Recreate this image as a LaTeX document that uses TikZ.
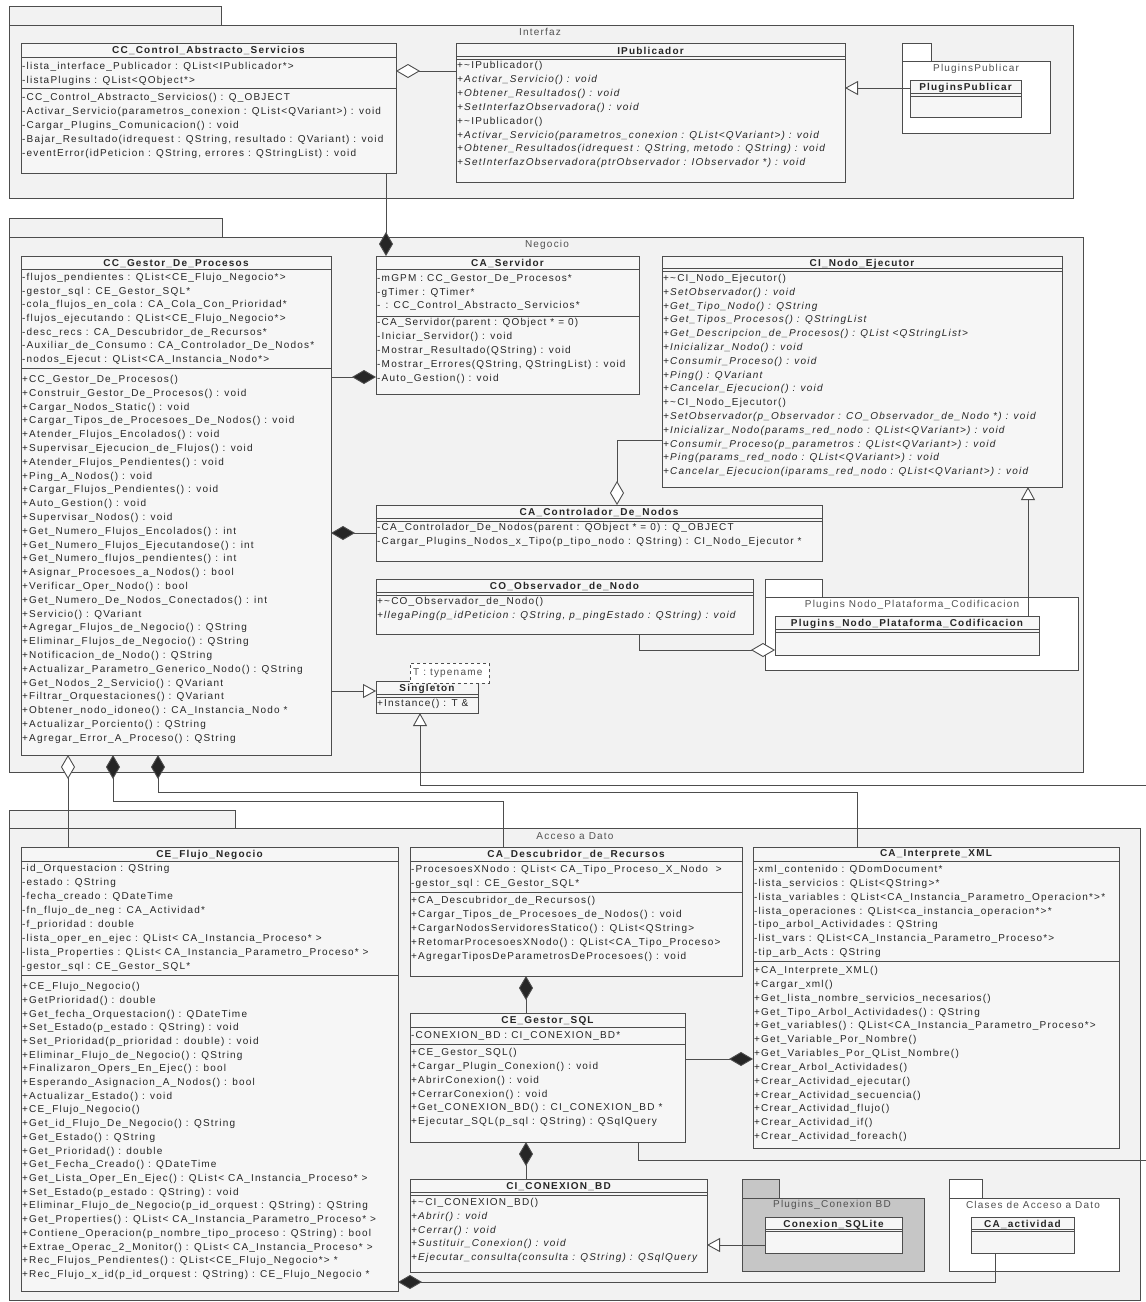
\documentclass[tikz,border=0pt]{standalone}
\usepackage{fontspec}
\setmainfont{Liberation Sans}[LetterSpace=12]
\usetikzlibrary{arrows.meta}
\definecolor{pkgfill}{HTML}{F2F2F2}
\definecolor{clsfill}{HTML}{F6F6F6}
\definecolor{edgec}{HTML}{4D4D4D}
\definecolor{txtc}{HTML}{262626}
\definecolor{darkpkg}{HTML}{C6C6C6}
\definecolor{labc}{HTML}{505050}
\tikzset{
  pkgbox/.style={draw=edgec, fill=pkgfill, line width=0.9pt},
  pkgnode/.style={draw=edgec, fill=pkgfill, line width=0.9pt, rectangle, inner sep=0pt, outer sep=0pt, anchor=north west},
  clsbox/.style={draw=edgec, fill=clsfill, line width=1pt, rectangle, inner sep=0pt, outer sep=0pt, anchor=north west},
  sepline/.style={draw=edgec, line width=0.9pt},
  mem/.style={anchor=west, inner sep=0pt, text=txtc, font=\fontsize{10}{12}\selectfont},
  ttl/.style={anchor=center, inner sep=0pt, text=txtc, font=\fontsize{10}{12}\selectfont\bfseries},
  plab/.style={anchor=center, inner sep=0pt, text=labc, font=\fontsize{10}{12}\selectfont},
  conn/.style={draw=edgec, line width=0.9pt},
  compS/.style={conn, {Diamond[fill=black!85,length=24pt,width=14pt]}-},
  compE/.style={conn, -{Diamond[fill=black!85,length=24pt,width=14pt]}},
  aggS/.style={conn, {Diamond[open,fill=white,length=24pt,width=14pt]}-},
  aggE/.style={conn, -{Diamond[open,fill=white,length=24pt,width=14pt]}},
  genE/.style={conn, -{Triangle[open,fill=white,length=13pt,width=14pt]}},
}
\newcounter{mm}
\newcommand\members[4]{\foreach \t [count=\i from 0] in {#4}{\stepcounter{mm}\node[mem] (m\arabic{mm}) at (#1,{#2+\i*#3}) {\t};}}
\newcommand\umlclass[8]{%
  \node[clsbox, minimum width={#4-#2}, minimum height={#5-#3}] (#1) at (#2,#3) {};
  \node[ttl] (#1-t) at ({(#2+#4)/2},{#3+7.5}) {#6};
  \draw[sepline] (#2,#7) -- (#4,#7);
  \draw[sepline] (#2,#8) -- (#4,#8);}
\begin{document}
\begin{tikzpicture}[x=1pt,y=-1pt]
\useasboundingbox[fill=white] (0,0) rectangle (1146,1302);

%% ================= Interfaz =================
\draw[pkgbox] (9,6) rectangle (221,25);
\node[pkgnode, minimum width=1064, minimum height=173] (pkgI) at (9,25) {};
\node[plab] (pkgI-l) at (540,32) {Interfaz};

\umlclass{ccas}{21}{43}{396}{173}{CC\_Control\_Abstracto\_Servicios}{57}{88}
\members{22}{67}{13.5}{{-lista\_interface\_Publicador : QList<IPublicador*>},{-listaPlugins : QList<QObject*>}}
\members{22}{98}{14}{{-CC\_Control\_Abstracto\_Servicios() : Q\_OBJECT},{-Activar\_Servicio(parametros\_conexion : QList<QVariant>) : void},{-Cargar\_Plugins\_Comunicacion() : void},{-Bajar\_Resultado(idrequest : QString, resultado : QVariant) : void},{-eventError(idPeticion : QString, errores : QStringList) : void}}

\umlclass{ipub}{456}{43}{845}{182}{IPublicador}{56}{59}
\members{457}{66}{13.9}{{+\textasciitilde IPublicador()},{\itshape +Activar\_Servicio() : void},{\itshape +Obtener\_Resultados() : void},{\itshape +SetInterfazObservadora() : void},{+\textasciitilde IPublicador()},{\itshape +Activar\_Servicio(parametros\_conexion : QList<QVariant>) : void},{\itshape +Obtener\_Resultados(idrequest : QString, metodo : QString) : void},{\itshape +SetInterfazObservadora(ptrObservador : IObservador *) : void}}

\draw[pkgbox, fill=white] (902,43) rectangle (931,61);
\node[pkgnode, fill=white, minimum width=148, minimum height=72] (ppubpkg) at (902,61) {};
\node[plab] (ppubpkg-l) at (976,69) {PluginsPublicar};
\umlclass{ppub}{910}{80}{1021}{117}{PluginsPublicar}{93}{96}

%% ================= Negocio =================
\draw[pkgbox] (9,218) rectangle (222,237);
\node[pkgnode, minimum width=1074, minimum height=535] (pkgN) at (9,237) {};
\node[plab] (pkgN-l) at (547,245) {Negocio};

\umlclass{gestor}{21}{256}{331}{755}{CC\_Gestor\_De\_Procesos}{269}{368}
\members{22}{278}{13.67}{{-flujos\_pendientes : QList<CE\_Flujo\_Negocio*>},{-gestor\_sql : CE\_Gestor\_SQL*},{-cola\_flujos\_en\_cola : CA\_Cola\_Con\_Prioridad*},{-flujos\_ejecutando : QList<CE\_Flujo\_Negocio*>},{-desc\_recs : CA\_Descubridor\_de\_Recursos*},{-Auxiliar\_de\_Consumo : CA\_Controlador\_De\_Nodos*},{-nodos\_Ejecut : QList<CA\_Instancia\_Nodo*>}}
\members{22}{380}{13.8}{{+CC\_Gestor\_De\_Procesos()},{+Construir\_Gestor\_De\_Procesos() : void},{+Cargar\_Nodos\_Static() : void},{+Cargar\_Tipos\_de\_Procesoes\_De\_Nodos() : void},{+Atender\_Flujos\_Encolados() : void},{+Supervisar\_Ejecucion\_de\_Flujos() : void},{+Atender\_Flujos\_Pendientes() : void},{+Ping\_A\_Nodos() : void},{+Cargar\_Flujos\_Pendientes() : void},{+Auto\_Gestion() : void},{+Supervisar\_Nodos() : void},{+Get\_Numero\_Flujos\_Encolados() : int},{+Get\_Numero\_Flujos\_Ejecutandose() : int},{+Get\_Numero\_flujos\_pendientes() : int},{+Asignar\_Procesoes\_a\_Nodos() : bool},{+Verificar\_Oper\_Nodo() : bool},{+Get\_Numero\_De\_Nodos\_Conectados() : int},{+Servicio() : QVariant},{+Agregar\_Flujos\_de\_Negocio() : QString},{+Eliminar\_Flujos\_de\_Negocio() : QString},{+Notificacion\_de\_Nodo() : QString},{+Actualizar\_Parametro\_Generico\_Nodo() : QString},{+Get\_Nodos\_2\_Servicio() : QVariant},{+Filtrar\_Orquestaciones() : QVariant},{+Obtener\_nodo\_idoneo() : CA\_Instancia\_Nodo *},{+Actualizar\_Porciento() : QString},{+Agregar\_Error\_A\_Proceso() : QString}}

\umlclass{serv}{376}{256}{639}{394}{CA\_Servidor}{269}{316}
\members{377}{279}{13.5}{{-mGPM : CC\_Gestor\_De\_Procesos*},{-gTimer : QTimer*},{-\hspace{5pt}: CC\_Control\_Abstracto\_Servicios*}}
\members{377}{323}{14}{{-CA\_Servidor(parent : QObject * = 0)},{-Iniciar\_Servidor() : void},{-Mostrar\_Resultado(QString) : void},{-Mostrar\_Errores(QString, QStringList) : void},{-Auto\_Gestion() : void}}

\umlclass{nodo}{662}{256}{1062}{487}{CI\_Nodo\_Ejecutor}{268}{271}
\members{663}{279}{13.79}{{+\textasciitilde CI\_Nodo\_Ejecutor()},{\itshape +SetObservador() : void},{\itshape +Get\_Tipo\_Nodo() : QString},{\itshape +Get\_Tipos\_Procesos() : QStringList},{\itshape +Get\_Descripcion\_de\_Procesos() : QList <QStringList>},{\itshape +Inicializar\_Nodo() : void},{\itshape +Consumir\_Proceso() : void},{\itshape +Ping() : QVariant},{\itshape +Cancelar\_Ejecucion() : void},{+\textasciitilde CI\_Nodo\_Ejecutor()},{\itshape +SetObservador(p\_Observador : CO\_Observador\_de\_Nodo *) : void},{\itshape +Inicializar\_Nodo(params\_red\_nodo : QList<QVariant>) : void},{\itshape +Consumir\_Proceso(p\_parametros : QList<QVariant>) : void},{\itshape +Ping(params\_red\_nodo : QList<QVariant>) : void},{\itshape +Cancelar\_Ejecucion(iparams\_red\_nodo : QList<QVariant>) : void}}

\umlclass{ctrl}{376}{505}{822}{561}{CA\_Controlador\_De\_Nodos}{518}{521}
\members{377}{528}{14}{{-CA\_Controlador\_De\_Nodos(parent : QObject * = 0) : Q\_OBJECT},{-Cargar\_Plugins\_Nodos\_x\_Tipo(p\_tipo\_nodo : QString) : CI\_Nodo\_Ejecutor *}}

\umlclass{obs}{376}{579}{753}{634}{CO\_Observador\_de\_Nodo}{592}{595}
\members{377}{602}{14}{{+\textasciitilde CO\_Observador\_de\_Nodo()},{\itshape +llegaPing(p\_idPeticion : QString, p\_pingEstado : QString) : void}}

\draw[pkgbox, fill=white] (765,579) rectangle (822,597);
\node[pkgnode, fill=white, minimum width=313, minimum height=73] (plugpkg) at (765,597) {};
\node[plab] (plugpkg-l) at (912,605) {Plugins Nodo\_Plataforma\_Codificacion};
\umlclass{plugc}{775}{616}{1039}{655}{Plugins\_Nodo\_Plataforma\_Codificacion}{629}{632}

\umlclass{single}{376}{681}{478}{713}{Singleton}{694}{697}
\members{377}{704}{14}{{+Instance() : T \&}}
\node[draw=edgec, dashed, fill=white, line width=0.8pt, rectangle, inner sep=0pt, anchor=north west, minimum width=79, minimum height=20] (tmpl) at (410,663) {};
\node[mem, text=labc] (tmpl-t) at (413,673) {T : typename};

%% ================= Acceso a Dato =================
\draw[pkgbox] (9,810) rectangle (235,828);
\node[pkgnode, minimum width=1131, minimum height=472] (pkgA) at (9,828) {};
\node[plab] (pkgA-l) at (575,836) {Acceso a Dato};

\umlclass{flujo}{21}{847}{398}{1291}{CE\_Flujo\_Negocio}{861}{975}
\members{22}{869}{14}{{-id\_Orquestacion : QString},{-estado : QString},{-fecha\_creado : QDateTime},{-fn\_flujo\_de\_neg : CA\_Actividad*},{-f\_prioridad : double},{-lista\_oper\_en\_ejec : QList< CA\_Instancia\_Proceso* >},{-lista\_Properties : QList< CA\_Instancia\_Parametro\_Proceso* >},{-gestor\_sql : CE\_Gestor\_SQL*}}
\members{22}{987}{13.71}{{+CE\_Flujo\_Negocio()},{+GetPrioridad() : double},{+Get\_fecha\_Orquestacion() : QDateTime},{+Set\_Estado(p\_estado : QString) : void},{+Set\_Prioridad(p\_prioridad : double) : void},{+Eliminar\_Flujo\_de\_Negocio() : QString},{+Finalizaron\_Opers\_En\_Ejec() : bool},{+Esperando\_Asignacion\_A\_Nodos() : bool},{+Actualizar\_Estado() : void},{+CE\_Flujo\_Negocio()},{+Get\_id\_Flujo\_De\_Negocio() : QString},{+Get\_Estado() : QString},{+Get\_Prioridad() : double},{+Get\_Fecha\_Creado() : QDateTime},{+Get\_Lista\_Oper\_En\_Ejec() : QList< CA\_Instancia\_Proceso* >},{+Set\_Estado(p\_estado : QString) : void},{+Eliminar\_Flujo\_de\_Negocio(p\_id\_orquest : QString) : QString},{+Get\_Properties() : QList< CA\_Instancia\_Parametro\_Proceso* >},{+Contiene\_Operacion(p\_nombre\_tipo\_proceso : QString) : bool},{+Extrae\_Operac\_2\_Monitor() : QList< CA\_Instancia\_Proceso* >},{+Rec\_Flujos\_Pendientes() : QList<CE\_Flujo\_Negocio*> *},{+Rec\_Flujo\_x\_id(p\_id\_orquest : QString) : CE\_Flujo\_Negocio *}}

\umlclass{desc}{410}{847}{742}{976}{CA\_Descubridor\_de\_Recursos}{861}{892}
\members{411}{870}{14}{{-ProcesoesXNodo : QList< CA\_Tipo\_Proceso\_X\_Nodo \ >},{-gestor\_sql : CE\_Gestor\_SQL*}}
\members{411}{901}{14}{{+CA\_Descubridor\_de\_Recursos()},{+Cargar\_Tipos\_de\_Procesoes\_de\_Nodos() : void},{+CargarNodosServidoresStatico() : QList<QString>},{+RetomarProcesoesXNodo() : QList<CA\_Tipo\_Proceso>},{+AgregarTiposDeParametrosDeProcesoes() : void}}

\umlclass{gsql}{410}{1013}{685}{1142}{CE\_Gestor\_SQL}{1027}{1044}
\members{411}{1036}{14}{{-CONEXION\_BD : CI\_CONEXION\_BD*}}
\members{411}{1053}{13.8}{{+CE\_Gestor\_SQL()},{+Cargar\_Plugin\_Conexion() : void},{+AbrirConexion() : void},{+CerrarConexion() : void},{+Get\_CONEXION\_BD() : CI\_CONEXION\_BD *},{+Ejecutar\_SQL(p\_sql : QString) : QSqlQuery}}

\umlclass{interp}{753}{847}{1119}{1148}{CA\_Interprete\_XML}{861}{961}
\members{754}{870}{13.83}{{-xml\_contenido : QDomDocument*},{-lista\_servicios : QList<QString>*},{-lista\_variables : QList<CA\_Instancia\_Parametro\_Operacion*>*},{-lista\_operaciones : QList<ca\_instancia\_operacion*>*},{-tipo\_arbol\_Actividades : QString},{-list\_vars : QList<CA\_Instancia\_Parametro\_Proceso*>},{-tip\_arb\_Acts : QString}}
\members{754}{971}{13.83}{{+CA\_Interprete\_XML()},{+Cargar\_xml()},{+Get\_lista\_nombre\_servicios\_necesarios()},{+Get\_Tipo\_Arbol\_Actividades() : QString},{+Get\_variables() : QList<CA\_Instancia\_Parametro\_Proceso*>},{+Get\_Variable\_Por\_Nombre()},{+Get\_Variables\_Por\_QList\_Nombre()},{+Crear\_Arbol\_Actividades()},{+Crear\_Actividad\_ejecutar()},{+Crear\_Actividad\_secuencia()},{+Crear\_Actividad\_flujo()},{+Crear\_Actividad\_if()},{+Crear\_Actividad\_foreach()}}

\umlclass{cbd}{410}{1179}{707}{1272}{CI\_CONEXION\_BD}{1192}{1195}
\members{411}{1203}{13.75}{{+\textasciitilde CI\_CONEXION\_BD()},{\itshape +Abrir() : void},{\itshape +Cerrar() : void},{\itshape +Sustituir\_Conexion() : void},{\itshape +Ejecutar\_consulta(consulta : QString) : QSqlQuery}}

\draw[pkgbox, fill=darkpkg] (742,1179) rectangle (779,1198);
\node[pkgnode, fill=darkpkg, minimum width=182, minimum height=73] (sqlpkg) at (742,1198) {};
\node[plab] (sqlpkg-l) at (832,1205) {Plugins\_Conexion BD};
\umlclass{sqlite}{765}{1217}{902}{1253}{Conexion\_SQLite}{1229}{1231}

\draw[pkgbox, fill=white] (949,1179) rectangle (982,1198);
\node[pkgnode, fill=white, minimum width=170, minimum height=73] (clspkg) at (949,1198) {};
\node[plab] (clspkg-l) at (1033,1205) {Clases de Acceso a Dato};
\umlclass{act}{971}{1217}{1074}{1253}{CA\_actividad}{1229}{1231}

%% ================= Connectors =================
\draw[aggS] (ccas.east |- 0,71) -- (ipub.west |- 0,71);
\draw[genE] (ppub.west |- 0,88) -- (ipub.east |- 0,88);
\draw[compE] (ccas.south -| 386,0) -- (serv.north -| 386,0);
\draw[compE] (gestor.east |- 0,377) -- (serv.west |- 0,377);
\draw[compS] (gestor.east |- 0,533) -- (ctrl.west |- 0,533);
\draw[aggE] (nodo.west |- 0,440) -| (ctrl.north -| 617,0);
\draw[aggE] (obs.south -| 639,0) |- (plugc.west |- 0,650);
\draw[genE] (plugc.north -| 1028,0) -- (nodo.south -| 1028,0);
\draw[genE] (gestor.east |- 0,691) -- (single.west |- 0,691);
\coordinate (sg) at (1146,785);
\draw[genE] (sg) -| (single.south -| 420,0);
\draw[aggS] (gestor.south -| 68,0) -- (flujo.north -| 68,0);
\coordinate (b1) at (503,801);
\draw[compS] (gestor.south -| 113,0) |- (b1) -- (desc.north -| 503,0);
\coordinate (b2) at (857,792);
\draw[compS] (gestor.south -| 158,0) |- (b2) -- (interp.north -| 857,0);
\draw[compS] (desc.south -| 526,0) -- (gsql.north -| 526,0);
\draw[compE] (gsql.east |- 0,1059) -- (interp.west |- 0,1059);
\draw[compS] (gsql.south -| 526,0) -- (cbd.north -| 526,0);
\draw[genE] (sqlite.west |- 0,1245) -- (cbd.east |- 0,1245);
\draw[compE] (act.south -| 995,0) |- (flujo.east |- 0,1282);
\coordinate (ge) at (1146,1160);
\draw[conn] (gsql.south -| 638,0) |- (ge);
\end{tikzpicture}
\end{document}
